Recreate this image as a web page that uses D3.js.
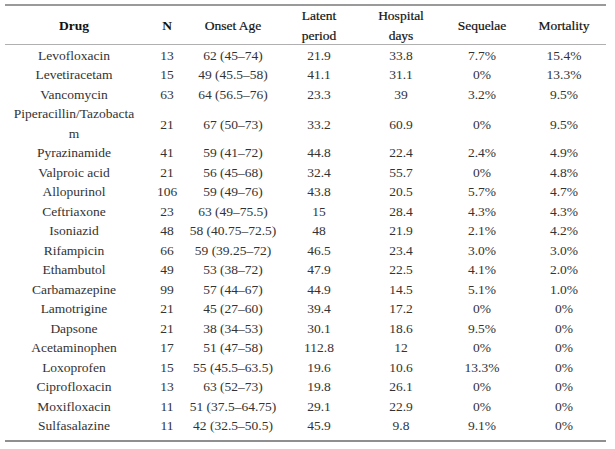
<!DOCTYPE html>
<html>
<head>
<meta charset="utf-8">
<script src="https://cdn.jsdelivr.net/npm/d3@7"></script>
<style>
  html, body { margin: 0; padding: 0; background: #fff; }
  svg { display: block; }
</style>
</head>
<body>
<svg id="chart" width="615" height="449" style="font-family:'Liberation Serif', 'DejaVu Serif', serif"></svg>
<script>
const headers = [["Drug"], ["N"], ["Onset Age"], ["Latent", "period"], ["Hospital", "days"], ["Sequelae"], ["Mortality"]];
const drugs = ["Levofloxacin", "Levetiracetam", "Vancomycin", "Piperacillin/Tazobactam", "Pyrazinamide", "Valproic acid", "Allopurinol", "Ceftriaxone", "Isoniazid", "Rifampicin", "Ethambutol", "Carbamazepine", "Lamotrigine", "Dapsone", "Acetaminophen", "Loxoprofen", "Ciprofloxacin", "Moxifloxacin", "Sulfasalazine"];
const nValues = [13, 15, 63, 21, 41, 21, 106, 23, 48, 66, 49, 99, 21, 21, 17, 15, 13, 11, 11];
const onsetAge = ["62 (45–74)", "49 (45.5–58)", "64 (56.5–76)", "67 (50–73)", "59 (41–72)", "56 (45–68)", "59 (49–76)", "63 (49–75.5)", "58 (40.75–72.5)", "59 (39.25–72)", "53 (38–72)", "57 (44–67)", "45 (27–60)", "38 (34–53)", "51 (47–58)", "55 (45.5–63.5)", "63 (52–73)", "51 (37.5–64.75)", "42 (32.5–50.5)"];
const latentPeriod = ["21.9", "41.1", "23.3", "33.2", "44.8", "32.4", "43.8", "15", "48", "46.5", "47.9", "44.9", "39.4", "30.1", "112.8", "19.6", "19.8", "29.1", "45.9"];
const hospitalDays = ["33.8", "31.1", "39", "60.9", "22.4", "55.7", "20.5", "28.4", "21.9", "23.4", "22.5", "14.5", "17.2", "18.6", "12", "10.6", "26.1", "22.9", "9.8"];
const sequelae = ["7.7%", "0%", "3.2%", "0%", "2.4%", "0%", "5.7%", "4.3%", "2.1%", "3.0%", "4.1%", "5.1%", "0%", "9.5%", "0%", "13.3%", "0%", "0%", "9.1%"];
const mortality = ["15.4%", "13.3%", "9.5%", "9.5%", "4.9%", "4.8%", "4.7%", "4.3%", "4.2%", "3.0%", "2.0%", "1.0%", "0%", "0%", "0%", "0%", "0%", "0%", "0%"];

const columns = [drugs, nValues, onsetAge, latentPeriod, hospitalDays, sequelae, mortality];

const svg = d3.select("#chart");
const fontSize = 13.5;
const fam = "'Liberation Serif', 'DejaVu Serif', serif";

// column center positions
const colX = d3.scaleOrdinal().domain(d3.range(7)).range([74, 167, 233, 319, 401, 482, 564]);
// row slot positions (text centre)
const slotY = d3.scaleLinear().domain([0, 1]).range([55, 74.5]);

// rules
const xr = d3.scaleLinear().domain([0, 1]).range([5, 606]);
svg.append("line").attr("x1", xr(0)).attr("x2", xr(1)).attr("y1", 5).attr("y2", 5)
  .attr("stroke", "#9a9a9a").attr("stroke-width", 2);
svg.append("line").attr("x1", xr(0)).attr("x2", xr(1)).attr("y1", 44.5).attr("y2", 44.5)
  .attr("stroke", "#b0b0b0").attr("stroke-width", 1);
svg.append("line").attr("x1", xr(0)).attr("x2", xr(1)).attr("y1", 441).attr("y2", 441)
  .attr("stroke", "#6a6a6a").attr("stroke-width", 1.5);

// headers
const boldCols = new Set([0, 1]);
headers.forEach((lines, i) => {
  const t = svg.append("text")
    .attr("x", colX(i))
    .attr("text-anchor", "middle")
    .attr("font-family", fam)
    .attr("font-size", fontSize)
    .attr("font-weight", boldCols.has(i) ? "bold" : "normal")
    .attr("fill", "#111")
    .attr("stroke", boldCols.has(i) ? "none" : "#111")
    .attr("stroke-width", boldCols.has(i) ? 0 : 0.2);
  const y0 = lines.length === 1 ? 25 : 15;
  lines.forEach((l, k) => {
    t.append("tspan").attr("x", colX(i)).attr("y", y0 + k * 20).attr("dy", "0.35em").text(l);
  });
});

// wrap drug names by character to fit column
const maxDrugWidth = 130;
const meas = svg.append("text").attr("font-family", fam).attr("font-size", fontSize).attr("visibility", "hidden");
function wrapChars(s) {
  const lines = [];
  let cur = "";
  for (const ch of s) {
    meas.text(cur + ch);
    if (cur && meas.node().getComputedTextLength() > maxDrugWidth) {
      lines.push(cur);
      cur = ch;
    } else cur += ch;
  }
  lines.push(cur);
  return lines;
}

let slot = 0;
drugs.forEach((d, r) => {
  const lines = wrapChars(d);
  const nl = lines.length;
  const dt = svg.append("text").attr("text-anchor", "middle").attr("font-family", fam)
    .attr("font-size", fontSize).attr("fill", "#333");
  lines.forEach((l, k) => {
    dt.append("tspan").attr("x", colX(0)).attr("y", slotY(slot + k)).attr("dy", "0.35em").text(l);
  });
  const midY = nl === 1 ? slotY(slot) : (slotY(slot) + slotY(slot + nl - 1)) / 2 + 1.5;
  for (let c = 1; c < columns.length; c++) {
    svg.append("text")
      .attr("x", colX(c)).attr("y", midY).attr("dy", "0.35em")
      .attr("text-anchor", "middle").attr("font-family", fam)
      .attr("font-size", fontSize).attr("fill", "#333")
      .text(columns[c][r]);
  }
  slot += nl;
});
meas.remove();
</script>
</body>
</html>
